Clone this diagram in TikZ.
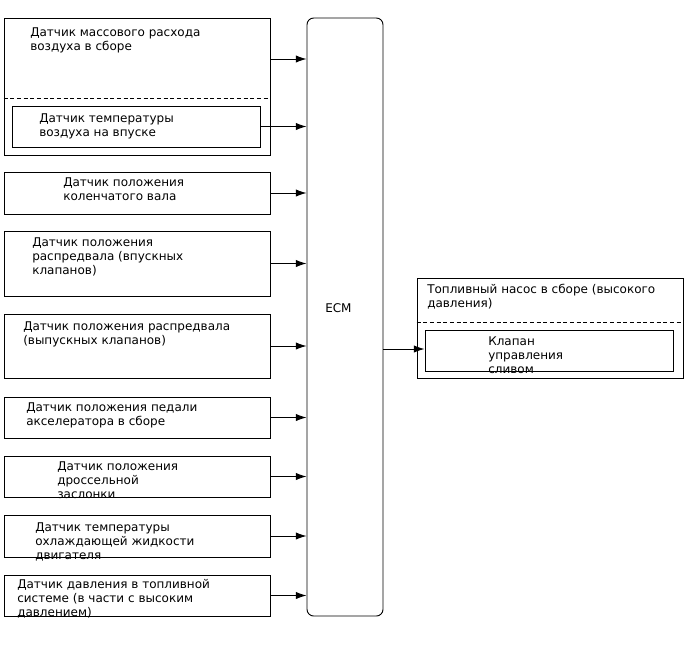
\documentclass[tikz,border=0pt]{standalone}
\usepackage{fontspec}
\setmainfont{DejaVu Sans}
\usetikzlibrary{arrows.meta,fit}
\tikzset{
  box/.style={draw, line width=0.7pt, inner sep=0pt, fill=none},
  ecmbox/.style={draw, line width=0.7pt, inner sep=0pt, rounded corners=5pt},
  lbl/.style={anchor=base west, inner sep=0pt, font=\fontsize{9}{10.5}\selectfont},
  arr/.style={line width=0.7pt, -{Latex[length=8pt,width=5.5pt]}},
  sep/.style={line width=0.7pt, dash pattern=on 3pt off 2pt}
}
\newcommand\ml[1]{\begin{tabular}[t]{@{}l@{}}#1\end{tabular}}
\begin{document}
\begin{tikzpicture}[x=0.75pt,y=-0.75pt]
\useasboundingbox (0,0) rectangle (688,658);
% ECM
\node[ecmbox, fit={(307,18)(383,616)}] (ecm) {};
\node[lbl] (tecm) at (325,312) {ECM};
% Box 1 (MAF)
\node[box, fit={(4,18)(270,155)}] (b1) {};
\draw[sep] (b1.west|-0,98) -- (b1.east|-0,98);
\node[box, fit={(12,106)(260,147)}] (b2) {};
\node[lbl] (t1) at (30,36) {\ml{Датчик массового расхода\\воздуха в сборе}};
\node[lbl] (t2) at (39,122) {\ml{Датчик температуры\\воздуха на впуске}};
% other sensors
\node[box, fit={(4,172)(270,214)}] (b3) {};
\node[lbl] (t3) at (63,186) {\ml{Датчик положения\\коленчатого вала}};
\node[box, fit={(4,231)(270,296)}] (b4) {};
\node[lbl] (t4) at (32,246) {\ml{Датчик положения\\распредвала (впускных\\клапанов)}};
\node[box, fit={(4,314)(270,378)}] (b5) {};
\node[lbl] (t5) at (23,330) {\ml{Датчик положения распредвала\\(выпускных клапанов)}};
\node[box, fit={(4,397)(270,438)}] (b6) {};
\node[lbl] (t6) at (26,411) {\ml{Датчик положения педали\\акселератора в сборе}};
\node[box, fit={(4,456)(270,497)}] (b7) {};
\node[lbl] (t7) at (57,470) {\ml{Датчик положения\\дроссельной\\заслонки}};
\node[box, fit={(4,515)(270,557)}] (b8) {};
\node[lbl] (t8) at (35,531) {\ml{Датчик температуры\\охлаждающей жидкости\\двигателя}};
\node[box, fit={(4,575)(270,616)}] (b9) {};
\node[lbl] (t9) at (17,588) {\ml{Датчик давления в топливной\\системе (в части с высоким\\давлением)}};
% pump
\node[box, fit={(417,278)(683,378)}] (pump) {};
\draw[sep] (pump.west|-0,322) -- (pump.east|-0,322);
\node[box, fit={(425,330)(673,371)}] (valve) {};
\node[lbl] (tp) at (427,293) {\ml{Топливный насос в сборе (высокого\\давления)}};
\node[lbl] (tv) at (488,345) {\ml{Клапан\\управления\\сливом}};
% arrows
\draw[arr] (b1.east|-0,59) -- (ecm.west|-0,59);
\draw[arr] (b2.east) -- (ecm.west|-b2.east);
\draw[arr] (b3.east) -- (ecm.west|-b3.east);
\draw[arr] (b4.east) -- (ecm.west|-b4.east);
\draw[arr] (b5.east) -- (ecm.west|-b5.east);
\draw[arr] (b6.east) -- (ecm.west|-b6.east);
\draw[arr] (b7.east) -- (ecm.west|-b7.east);
\draw[arr] (b8.east) -- (ecm.west|-b8.east);
\draw[arr] (b9.east) -- (ecm.west|-b9.east);
\draw[arr] (ecm.east|-0,349) -- (valve.west|-0,349);
\end{tikzpicture}
\end{document}
